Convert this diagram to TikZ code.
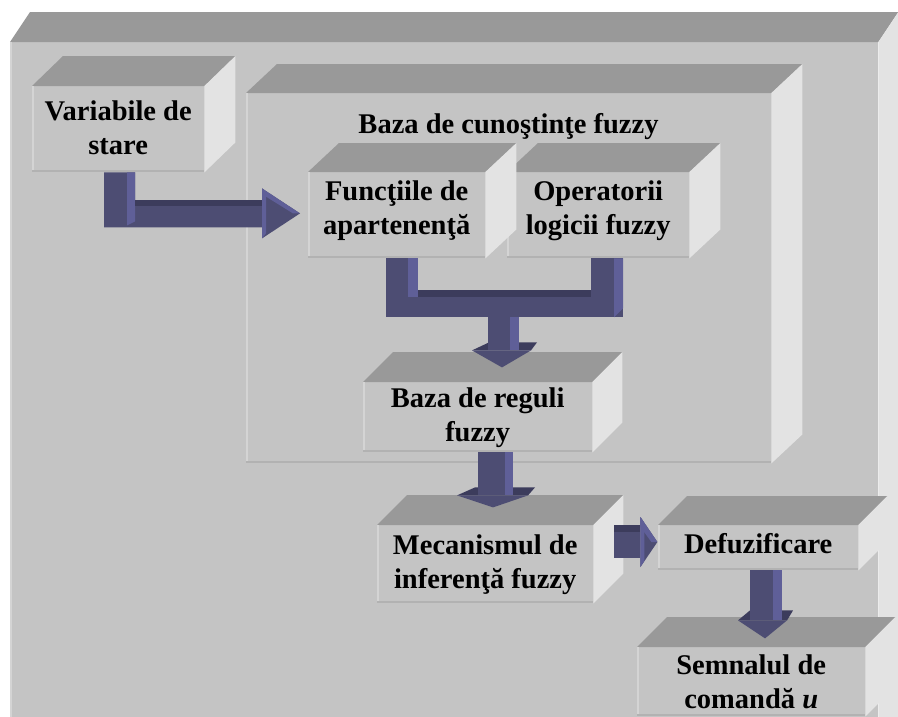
\documentclass[tikz,border=0pt]{standalone}
\usepackage{fontspec}
\setmainfont{Liberation Serif}
\usetikzlibrary{calc}
\definecolor{facefront}{RGB}{196,196,196}
\definecolor{facetop}{RGB}{153,153,153}
\definecolor{faceside}{RGB}{227,227,227}
\definecolor{edgehl}{RGB}{212,212,212}
\definecolor{edgesh}{RGB}{178,178,178}
\definecolor{arrowmain}{RGB}{77,77,115}
\definecolor{arrowlight}{RGB}{95,95,152}
\definecolor{arrowdark}{RGB}{60,60,92}
\tikzset{
  frontface/.style={fill=facefront, inner sep=0pt, anchor=north west, align=center,
    font=\bfseries\fontsize{28.5}{34}\selectfont},
  topface/.style={fill=facetop},
  sideface/.style={fill=faceside},
  edgelight/.style={draw=edgehl, line width=1.5pt},
  edgedark/.style={draw=edgesh, line width=2pt},
  arrmain/.style={fill=arrowmain},
  arrlight/.style={fill=arrowlight},
  arrdark/.style={fill=arrowdark},
  titletext/.style={inner sep=0pt, anchor=base, font=\bfseries\fontsize{28.5}{34}\selectfont},
}
\newcommand{\dpstrut}[1]{\rule[-#1pt]{0pt}{#1pt}}
% name, x, y, width, height, depth x, depth y, text
\newcommand{\cubebox}[8]{%
  \node[frontface, minimum width=#4pt, minimum height=#5pt] (#1) at (#2,#3) {#8};
  \fill[topface] (#1.north west) -- ++(#6,-#7) -- ($(#1.north east)+(#6,-#7)$) -- (#1.north east) -- cycle;
  \fill[sideface] (#1.north east) -- ++(#6,-#7) -- ($(#1.south east)+(#6,-#7)$) -- (#1.south east) -- cycle;
  \draw[edgelight] ($(#1.north west)+(0.75,0)$) -- ($(#1.south west)+(0.75,0)$);
  \draw[edgedark] ($(#1.south west)+(0,-1)$) -- ($(#1.south east)+(0,-1)$);
}
\begin{document}
\begin{tikzpicture}[x=1pt,y=-1pt]
\useasboundingbox (0,0) rectangle (898,716);
\clip (0,0) rectangle (898,716);
\fill[white] (0,0) rectangle (898,716);

\cubebox{outer}{10}{42}{868}{720}{20}{30}{}
\cubebox{kb}{246}{93}{525}{370}{31}{29}{}
\node[titletext] (kbtitle) at (508.5,133) {Baza de cunoştinţe fuzzy};

\cubebox{var}{32}{86}{172}{86}{31}{30}{Variabile de\\stare\dpstrut{3}}
\cubebox{oper}{507}{172}{182}{86}{31}{29}{Operatorii\\logicii fuzzy\dpstrut{15}}
\cubebox{funct}{308}{172}{177}{86}{31}{29}{Funcţiile de\\apartenenţă\dpstrut{15}}
\cubebox{reg}{363}{382}{229}{70}{30}{30}{Baza de reguli\\fuzzy}
\cubebox{mec}{377}{525}{216}{78}{30}{30}{Mecanismul de\\inferenţă fuzzy}
\cubebox{def}{658}{525}{200}{45}{29}{29}{Defuzificare\dpstrut{8}}
\cubebox{sem}{637}{647}{228}{69}{30}{30}{Semnalul de\\comandă \textit{u}}

% arrow: Variabile de stare -> Functiile de apartenenta
\begin{scope}[shift={(var.south west)}]
  \fill[arrmain] (72,0) -- (103,0) -- (103,28) -- (230,28) -- (230,16) -- (268,41)
    -- (230,66) -- (230,55) -- (72,55) -- cycle;
  \fill[arrlight] (95,0) -- (103,0) -- (103,49) -- (95,53) -- cycle;
  \fill[arrdark] (103,28) rectangle (230,34);
  \fill[arrlight] (230,16) -- (268,41) -- (261,41) -- (232,23) -- cycle;
  \fill[arrlight] (230,16) -- (234,22) -- (234,61) -- (230,66) -- cycle;
\end{scope}

% merge arrow: Functiile + Operatorii -> Baza de reguli
\begin{scope}[shift={(funct.south west)}]
  \fill[arrmain] (78,0) rectangle (110,59);
  \fill[arrmain] (283,0) rectangle (315,59);
  \fill[arrmain] (78,32) rectangle (315,59);
  \fill[arrdark] (110,32) rectangle (283,39);
  \fill[arrlight] (100,0) rectangle (110,39);
  \fill[arrlight] (306,0) -- (315,0) -- (315,50) -- (306,59) -- cycle;
  \fill[arrdark] (164,92) -- (181,84) -- (229,84) -- (223,92) -- cycle;
  \fill[arrmain] (180,59) rectangle (211,92);
  \fill[arrlight] (202,59) rectangle (211,92);
  \fill[arrmain] (164,92) -- (223,92) -- (194,109) -- cycle;
\end{scope}

% arrow: Baza de reguli -> Mecanismul
\begin{scope}[shift={(reg.south west)}]
  \fill[arrdark] (94,43) -- (112,35) -- (172,35) -- (165,43) -- cycle;
  \fill[arrmain] (115,0) rectangle (150,43);
  \fill[arrlight] (142,0) rectangle (150,43);
  \fill[arrmain] (94,43) -- (165,43) -- (130,55) -- cycle;
\end{scope}

% arrow: Mecanismul -> Defuzificare
\begin{scope}[shift={(mec.north east)}]
  \fill[arrmain] (21,0) rectangle (47,33);
  \fill[arrdark] (21,0) rectangle (47,7);
  \fill[arrmain] (47,-8) -- (64,17) -- (47,42) -- cycle;
  \fill[arrlight] (47,-8) -- (64,17) -- (58,17) -- (47,2) -- cycle;
  \fill[arrlight] (47,-8) -- (51,-2) -- (51,36) -- (47,42) -- cycle;
\end{scope}

% arrow: Defuzificare -> Semnalul de comanda
\begin{scope}[shift={(def.south west)}]
  \fill[arrdark] (80,50) -- (92,40) -- (135,40) -- (129,50) -- cycle;
  \fill[arrmain] (92,0) rectangle (124,50);
  \fill[arrlight] (115,0) rectangle (124,50);
  \fill[arrmain] (80,50) -- (129,50) -- (107,68) -- cycle;
\end{scope}
\end{tikzpicture}
\end{document}
